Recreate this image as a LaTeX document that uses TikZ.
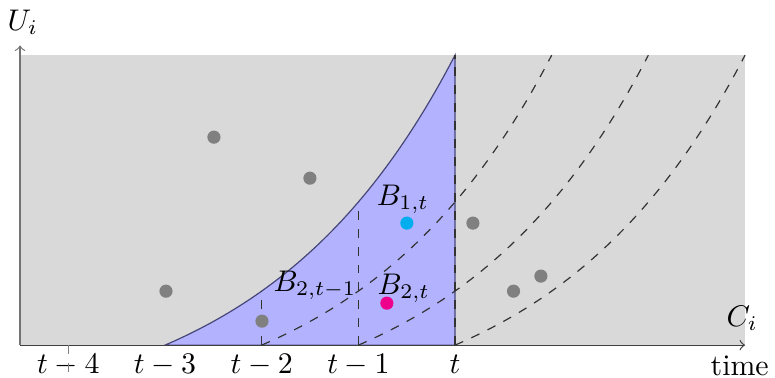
\documentclass[tikz,border=0pt]{standalone}
\usepackage{amsmath, amssymb}
\usetikzlibrary{arrows, positioning}

\definecolor{dotcyan}{RGB}{0,174,239}
\definecolor{dotmagenta}{RGB}{236,0,140}
\definecolor{curveedge}{RGB}{70,70,120}

\begin{document}
\begin{tikzpicture}[
    x=1.138cm, y=1.138cm,
    dot/.style={circle, fill=gray, inner sep=0pt, minimum size=0.155cm},
    axis/.style={->, >=to, black!75},
    shifted/.style={dashed, black!80}
]
\useasboundingbox (-0.207,-0.33) rectangle (7.81,3.57);

% Background region
\fill[gray!30] (0,0) rectangle (7.5,3);

% Region under the curve up to t
\filldraw[fill=blue!30, draw=curveedge] (1.5,0) -- plot[domain=0:3, samples=60] ({1.5+\x},{0.8616*(exp(0.5*\x)-1)}) -- (4.5,0) -- cycle;

% Shifted curves
\foreach \s in {2.5,3.5,4.5} {
    \draw[shifted] plot[domain=0:3, samples=60] ({\s+\x},{0.8616*(exp(0.5*\x)-1)});
}
\draw[shifted] (2.5,0) -- (2.5,0.5585);
\draw[shifted] (3.5,0) -- (3.5,1.4803);
\draw[shifted] (4.5,0) -- (4.5,3);

% Axes
\draw[axis, black!55] (0,0) -- (0,3.1);
\node (ui) at (0.03,3.34) {$U_i$};
\draw[axis] (0,0) -- (7.5,0);
\node (ci) at (7.47,0.28) {$C_i$};
\node[inner sep=0pt] (time) at (7.445,-0.21) {time};

% Time ticks
\foreach \lab [count=\i] in {t-4,t-3,t-2,t-1,t} {
    \node[anchor=base] (tick\i) at ({\i-0.5},-0.29) {$\lab$};
}
\draw[dashed, gray] (0.5,0) -- (0.5,-0.33);

% Points
\node[dot] (g1) at (2.006,2.151) {};
\node[dot] (g2) at (2.999,1.727) {};
\node[dot] (g3) at (4.685,1.262) {};
\node[dot] (g4) at (5.105,0.558) {};
\node[dot] (g5) at (5.388,0.714) {};
\node[dot] (g6) at (1.510,0.558) {};
\node[dot] (g7) at (2.503,0.248) {};
\node[dot, fill=dotcyan] (b1t) at (4.002,1.262) {};
\node[dot, fill=dotmagenta] (b2t) at (3.795,0.434) {};

% Labels
\node (lb1t) at (3.96,1.51) {$B_{1,t}$};
\node (lb2t) at (3.97,0.59) {$B_{2,t}$};
\node (lb2tm) at (3.05,0.62) {$B_{2,t-1}$};

\end{tikzpicture}
\end{document}
